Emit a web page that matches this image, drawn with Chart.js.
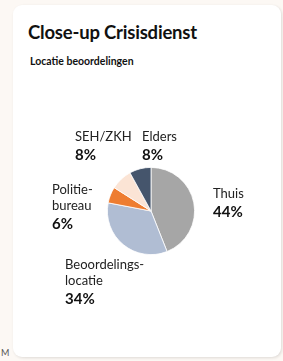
<!DOCTYPE html>
<html>
<head>
<meta charset="utf-8">
<script src="https://cdn.jsdelivr.net/npm/chart.js@4"></script>
<style>
  html, body { margin: 0; padding: 0; }
  body { width: 283px; height: 361px; background: #fcf8f4; position: relative; overflow: hidden; font-family: Lato, "Open Sans", sans-serif; }
  .card { position: absolute; left: 13px; top: 5px; width: 268px; height: 352px; background: #fff; border-radius: 9px; box-shadow: 1px 1px 3px rgba(0,0,0,0.12); }
  .card h1 { position: absolute; left: 15px; top: 16px; margin: 0; font-size: 18.5px; font-weight: 700; color: #111; letter-spacing: -0.2px; }
  .card h2 { position: absolute; left: 17px; top: 50px; margin: 0; font-size: 10.5px; font-weight: 700; color: #111; }
  canvas { position: absolute; left: 0; top: 0; }
  .stray { position: absolute; left: 1px; top: 347px; font-size: 9px; color: #555; }
</style>
</head>
<body>
<div class="card">
  <h1>Close-up Crisisdienst</h1>
  <h2>Locatie beoordelingen</h2>
  <canvas id="pie" width="268" height="352"></canvas>
</div>
<div class="stray">M</div>
<script>
const labels = ['Thuis', 'Beoordelings-\nlocatie', 'Politie-\nbureau', 'SEH/ZKH', 'Elders'];
const values = [44, 34, 6, 8, 8];
const colors = ['#a6a6a6', '#b0bdd3', '#ee7d31', '#fbe4d5', '#45556c'];

// label anchor (left edge, first line middle) relative to pie centre
const labelOffsets = [[62, -17], [-86, 54], [-99, -21], [-76, -74], [-9, -74]];

const pieLabels = {
  id: 'pieLabels',
  afterDraw(chart) {
    const ctx = chart.ctx;
    const arcs = chart.getDatasetMeta(0).data;
    ctx.save();
    ctx.textAlign = 'left';
    ctx.textBaseline = 'middle';
    arcs.forEach((arc, i) => {
      const x = arc.x + labelOffsets[i][0];
      let y = arc.y + labelOffsets[i][1];
      const lines = chart.data.labels[i].split('\n');
      ctx.fillStyle = '#222';
      ctx.font = '13px Lato, "Open Sans", sans-serif';
      lines.forEach((line, j) => {
        ctx.fillText(line, x, y);
        if (j < lines.length - 1) y += 16;
      });
      y += 18;
      ctx.fillStyle = '#111';
      ctx.font = 'bold 15px Lato, "Open Sans", sans-serif';
      ctx.fillText(chart.data.datasets[0].data[i] + '%', x, y);
    });
    ctx.restore();
  }
};

new Chart(document.getElementById('pie'), {
  type: 'pie',
  data: {
    labels: labels,
    datasets: [{ data: values, backgroundColor: colors, borderColor: '#fff', borderWidth: 0.8 }]
  },
  options: {
    responsive: false,
    animation: false,
    layout: { padding: { left: 94, right: 86, top: 162, bottom: 102 } },
    plugins: { legend: { display: false }, tooltip: { enabled: false } }
  },
  plugins: [pieLabels]
});
</script>
</body>
</html>
